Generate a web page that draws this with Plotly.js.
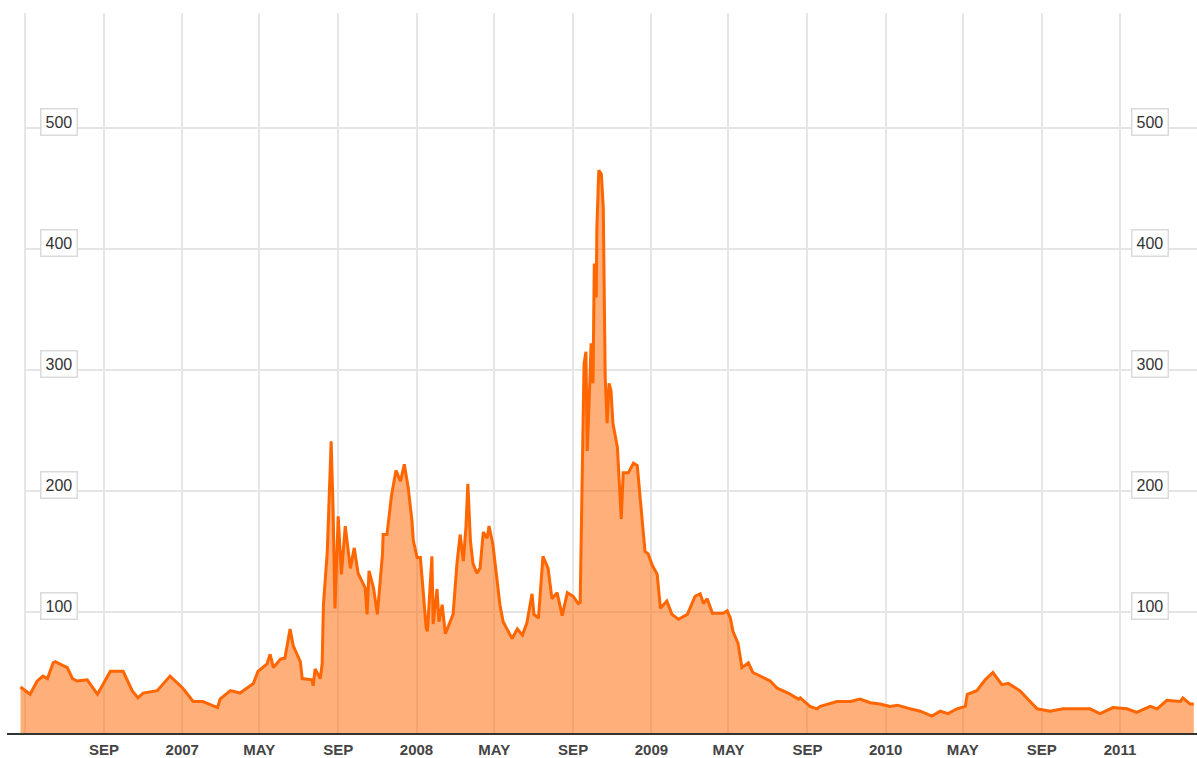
<!DOCTYPE html>
<html>
<head>
<meta charset="utf-8">
<script src="https://cdn.plot.ly/plotly-3.0.1.min.js"></script>
<style>
html,body{margin:0;padding:0;background:#fff;}
#chart{width:1197px;height:758px;}
</style>
</head>
<body>
<div id="chart"></div>
<script>
// Spread (basis points)
const dates = [
"2006-04-24","2006-05-09","2006-05-20","2006-05-29","2006-06-05","2006-06-14","2006-06-17","2006-06-25","2006-07-06","2006-07-14",
"2006-07-21","2006-08-06","2006-08-22","2006-09-11","2006-10-01","2006-10-15","2006-10-24","2006-11-01","2006-11-23","2006-12-13",
"2007-01-02","2007-01-18","2007-02-02","2007-02-25","2007-03-01","2007-03-17","2007-04-01","2007-04-22","2007-04-29","2007-05-13",
"2007-05-18","2007-05-23","2007-06-03","2007-06-10","2007-06-18","2007-06-23","2007-07-04","2007-07-07","2007-07-22","2007-07-24",
"2007-07-27","2007-08-04","2007-08-07","2007-08-09","2007-08-15","2007-08-21","2007-08-24","2007-08-27","2007-09-01","2007-09-06",
"2007-09-12","2007-09-20","2007-09-26","2007-10-02","2007-10-13","2007-10-16","2007-10-19","2007-10-26","2007-11-01","2007-11-09",
"2007-11-10","2007-11-16","2007-11-23","2007-11-30","2007-12-07","2007-12-13","2007-12-19","2007-12-25","2007-12-27","2008-01-02",
"2008-01-07","2008-01-11","2008-01-16","2008-01-18","2008-01-25","2008-01-27","2008-02-02","2008-02-05","2008-02-10","2008-02-15",
"2008-02-22","2008-02-27","2008-03-04","2008-03-09","2008-03-14","2008-03-18","2008-03-21","2008-03-25","2008-03-29","2008-04-04",
"2008-04-09","2008-04-14","2008-04-20","2008-04-23","2008-04-29","2008-05-06","2008-05-10","2008-05-15","2008-05-29","2008-06-06",
"2008-06-14","2008-06-21","2008-06-29","2008-07-02","2008-07-09","2008-07-16","2008-07-24","2008-07-30","2008-08-07","2008-08-15",
"2008-08-23","2008-09-01","2008-09-09","2008-09-12","2008-09-15","2008-09-18","2008-09-21","2008-09-23","2008-09-27","2008-09-29",
"2008-10-02","2008-10-04","2008-10-07","2008-10-08","2008-10-11","2008-10-15","2008-10-18","2008-10-19","2008-10-21","2008-10-24",
"2008-10-27","2008-10-30","2008-11-02","2008-11-09","2008-11-13","2008-11-15","2008-11-18","2008-11-26","2008-12-04","2008-12-10",
"2008-12-14","2008-12-19","2008-12-22","2008-12-27","2009-01-02","2009-01-10","2009-01-15","2009-01-25","2009-02-02","2009-02-12",
"2009-02-26","2009-03-10","2009-03-18","2009-03-23","2009-03-29","2009-04-06","2009-04-23","2009-04-29","2009-05-04","2009-05-08",
"2009-05-16","2009-05-22","2009-06-01","2009-06-08","2009-06-27","2009-07-05","2009-07-16","2009-08-02","2009-08-18","2009-08-21",
"2009-09-05","2009-09-16","2009-09-21","2009-10-06","2009-10-17","2009-11-07","2009-11-22","2009-12-08","2009-12-23","2010-01-08",
"2010-01-19","2010-02-08","2010-02-24","2010-03-14","2010-03-27","2010-04-08","2010-04-22","2010-05-05","2010-05-08","2010-05-23",
"2010-06-05","2010-06-17","2010-07-01","2010-07-11","2010-07-29","2010-08-14","2010-08-25","2010-09-14","2010-10-04","2010-10-26",
"2010-11-15","2010-12-01","2010-12-21","2011-01-12","2011-01-27","2011-02-17","2011-02-28","2011-03-15","2011-04-05","2011-04-09",
"2011-04-20","2011-04-26"
];
const spread = [
38,32,43,47,45,58,59,57,54,45,
43,44,32,51,51,35,29,33,35,47,
37,26,26,21,28,35,33,41,51,57,
65,54,61,62,86,72,59,45,44,39,
53,45,57,106,150,241,186,103,179,131,
171,136,153,132,120,98,134,120,98,148,
164,164,196,217,208,222,203,175,159,145,
145,120,87,84,146,90,119,92,106,82,
92,98,140,164,142,170,206,159,140,132,
136,166,161,171,156,125,106,92,78,86,
81,91,115,98,95,146,136,111,116,97,
116,113,107,108,200,305,315,233,289,322,
289,388,360,418,465,462,434,363,294,256,
289,283,256,236,203,177,215,215,223,221,
197,170,150,148,139,131,103,109,98,94,
98,113,115,107,111,99,99,101,95,84,
74,54,58,50,45,43,37,33,28,29,
22,20,22,24,26,26,28,25,24,22,
23,20,18,14,18,16,20,22,32,35,
44,50,40,41,35,26,20,18,20,20,
20,16,21,20,17,22,20,27,26,29,
24,24
];

const tickDates = ["2006-05-01","2006-09-01","2007-01-01","2007-05-01","2007-09-01","2008-01-01","2008-05-01","2008-09-01","2009-01-01","2009-05-01","2009-09-01","2010-01-01","2010-05-01","2010-09-01","2011-01-01"];
const tickLabels = ["","SEP","2007","MAY","SEP","2008","MAY","SEP","2009","MAY","SEP","2010","MAY","SEP","2011"];
const yLevels = [100,200,300,400,500];
const xRange = ["2006-04-03","2011-05-01"];
const yRange = [0,595];

const shapes = yLevels.map(v => ({
  type:'line', xref:'x', yref:'y', x0:tickDates[0], x1:xRange[1], y0:v, y1:v,
  line:{color:'#dcdcdc', width:1.5}, layer:'below'
}));

const annotations = [];
yLevels.forEach(v => {
  [0.0437, 0.9605].forEach(px => {
    annotations.push({
      xref:'paper', yref:'y', x:px, y:v, yshift:6, text:String(v), showarrow:false,
      font:{family:'Arial, Liberation Sans, sans-serif', size:16, color:'#333'},
      bgcolor:'#fff', bordercolor:'#dadada', borderwidth:1.5, borderpad:4,
      xanchor:'center', yanchor:'middle'
    });
  });
});

const trace = {
  x: dates, y: spread, type:'scatter', mode:'lines',
  line:{color:'#ff6600', width:3, shape:'linear'},
  fill:'tozeroy', fillcolor:'rgba(255,102,0,0.52)',
  hoverinfo:'x+y'
};

const layout = {
  width:1197, height:758,
  margin:{l:7, r:0, t:13, b:25},
  paper_bgcolor:'#fff', plot_bgcolor:'#fff',
  showlegend:false,
  xaxis:{
    type:'date', range:xRange, tickmode:'array', tickvals:tickDates, ticktext:tickLabels,
    showgrid:true, gridcolor:'#e6e6e6', gridwidth:2,
    showline:true, linecolor:'#333', linewidth:2, ticks:'', zeroline:false,
    ticklabelstandoff:2,
    tickfont:{family:'Arial, Liberation Sans, sans-serif', size:15, color:'#444', weight:'bold'}
  },
  yaxis:{
    range:yRange, showgrid:false, zeroline:false, showticklabels:false, ticks:'', showline:false
  },
  shapes: shapes,
  annotations: annotations
};

Plotly.newPlot('chart', [trace], layout, {displayModeBar:false, staticPlot:true});
</script>
</body>
</html>
